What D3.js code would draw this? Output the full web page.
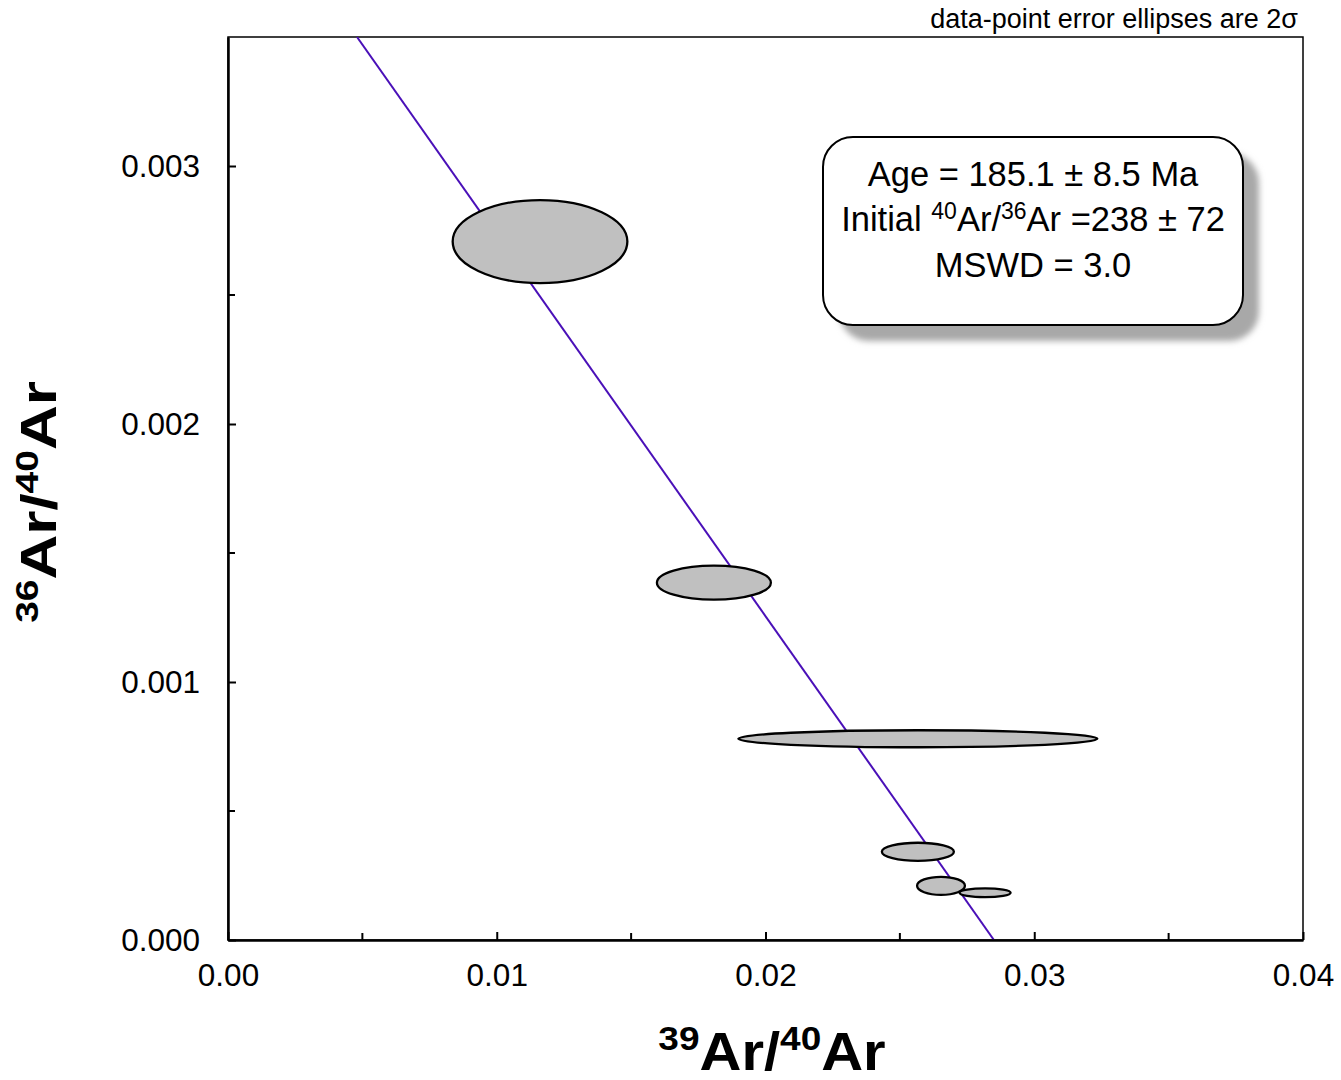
<!DOCTYPE html>
<html>
<head>
<meta charset="utf-8">
<script src="https://cdn.jsdelivr.net/npm/d3@7"></script>
<style>
	body { margin: 0; background: #fff; }
	text { font-family: "Liberation Sans", Arial, sans-serif; }
</style>
</head>
<body>
<svg id="chart" width="1341" height="1080"></svg>
<script>
// data: ellipse centres and 2 sigma half-widths
var ptX = [0.01161, 0.01808, 0.02567, 0.02567, 0.02653, 0.02817]
var ptY = [0.002707, 0.001385, 0.000780, 0.000342, 0.000210, 0.000183]
var errX = [0.00325, 0.00212, 0.00668, 0.00134, 0.00089, 0.00095]
var errY = [0.000161, 0.000066, 0.000033, 0.000035, 0.000035, 0.000017]

// isochron line (end points)
var isoX = [0.0048, 0.0285]
var isoY = [0.0035, 0]

var xTicks = [0, 0.01, 0.02, 0.03, 0.04]
var xMinor = [0.005, 0.015, 0.025, 0.035]
var yTicks = [0, 0.001, 0.002, 0.003]
var yMinor = [0.0005, 0.0015, 0.0025]

var boxLines = ['Age = 185.1 ± 8.5 Ma', 'Initial', 'MSWD = 3.0']

var pLeft = 228, pRight = 1303, pTop = 37, pBottom = 940

var x = d3.scaleLinear().domain([0, 0.04]).range([pLeft, pRight])
var y = d3.scaleLinear().domain([0, 0.0035]).range([pBottom, pTop])

var svg = d3.select('#chart')

// shadow filter for the text box
var defs = svg.append('defs')
defs.append('filter')
	.attr('id', 'blur')
	.attr('x', '-10%').attr('y', '-10%')
	.attr('width', '120%').attr('height', '120%')
	.append('feGaussianBlur')
	.attr('stdDeviation', 3)

defs.append('clipPath').attr('id', 'plotclip')
	.append('rect')
	.attr('x', pLeft).attr('y', pTop)
	.attr('width', pRight - pLeft).attr('height', pBottom - pTop)

// frame
svg.append('rect')
	.attr('x', pLeft).attr('y', pTop)
	.attr('width', pRight - pLeft).attr('height', pBottom - pTop)
	.attr('fill', 'none')
	.attr('stroke', '#000')
	.attr('stroke-width', 1.5)

// isochron line
svg.append('line')
	.attr('clip-path', 'url(#plotclip)')
	.attr('x1', x(isoX[0])).attr('y1', y(isoY[0]))
	.attr('x2', x(isoX[1])).attr('y2', y(isoY[1]))
	.attr('stroke', '#4a10b8')
	.attr('stroke-width', 2)

// ellipses
svg.selectAll('ellipse.pt')
	.data(ptX)
	.enter()
	.append('ellipse')
	.attr('class', 'pt')
	.attr('cx', function (d) { return x(d) })
	.attr('cy', function (d, i) { return y(ptY[i]) })
	.attr('rx', function (d, i) { return x(errX[i]) - x(0) })
	.attr('ry', function (d, i) { return y(0) - y(errY[i]) })
	.attr('fill', '#c0c0c0')
	.attr('stroke', '#000')
	.attr('stroke-width', 2.3)

// axes
var xAxis = d3.axisBottom(x).tickValues(xTicks).tickFormat(d3.format('.2f')).tickSizeInner(-8).tickSizeOuter(0).tickPadding(24)
var gx = svg.append('g').attr('transform', 'translate(0,' + pBottom + ')').call(xAxis)
gx.select('.domain').attr('stroke-width', 2.5)
gx.selectAll('.tick line').attr('stroke-width', 2)
gx.selectAll('.tick text').attr('font-size', 31.5).attr('fill', '#000').attr('font-family', '"Liberation Sans", Arial, sans-serif')

gx.selectAll('line.minor')
	.data(xMinor)
	.enter()
	.append('line')
	.attr('class', 'minor')
	.attr('x1', function (d) { return x(d) }).attr('x2', function (d) { return x(d) })
	.attr('y1', 0).attr('y2', -7)
	.attr('stroke', '#000').attr('stroke-width', 2)

var yAxis = d3.axisLeft(y).tickValues(yTicks).tickFormat(d3.format('.3f')).tickSizeInner(-8).tickSizeOuter(0).tickPadding(28)
var gy = svg.append('g').attr('transform', 'translate(' + pLeft + ',0)').call(yAxis)
gy.select('.domain').attr('stroke-width', 2.5)
gy.selectAll('.tick line').attr('stroke-width', 2)
gy.selectAll('.tick text').attr('font-size', 31.5).attr('fill', '#000').attr('font-family', '"Liberation Sans", Arial, sans-serif')

gy.selectAll('line.minor')
	.data(yMinor)
	.enter()
	.append('line')
	.attr('class', 'minor')
	.attr('y1', function (d) { return y(d) }).attr('y2', function (d) { return y(d) })
	.attr('x1', 0).attr('x2', 7)
	.attr('stroke', '#000').attr('stroke-width', 2)

// axis titles
var xt = svg.append('text')
	.attr('transform', 'translate(772,1070) scale(1,0.92)')
	.attr('text-anchor', 'middle')
	.attr('font-weight', 'bold')
	.attr('font-size', 58)
xt.append('tspan').attr('font-size', 37).attr('dy', -22).text('39')
xt.append('tspan').attr('dy', 22).text('Ar/')
xt.append('tspan').attr('font-size', 37).attr('dy', -22).text('40')
xt.append('tspan').attr('dy', 22).text('Ar')

var yt = svg.append('text')
	.attr('transform', 'translate(56,502) rotate(-90) scale(1,0.8)')
	.attr('text-anchor', 'middle')
	.attr('font-weight', 'bold')
	.attr('font-size', 62)
yt.append('tspan').attr('font-size', 39).attr('dy', -22).text('36')
yt.append('tspan').attr('dy', 22).text('Ar/')
yt.append('tspan').attr('font-size', 39).attr('dy', -22).text('40')
yt.append('tspan').attr('dy', 22).text('Ar')

// note
svg.append('text')
	.attr('x', 1298).attr('y', 28)
	.attr('text-anchor', 'end')
	.attr('font-size', 27)
	.text('data-point error ellipses are 2σ')

// result box
var bx = 823, by = 137, bw = 420, bh = 188
svg.append('rect')
	.attr('x', bx + 16).attr('y', by + 16)
	.attr('width', bw).attr('height', bh)
	.attr('rx', 30).attr('ry', 30)
	.attr('fill', '#a8a8a8')
	.attr('filter', 'url(#blur)')
svg.append('rect')
	.attr('x', bx).attr('y', by)
	.attr('width', bw).attr('height', bh)
	.attr('rx', 30).attr('ry', 30)
	.attr('fill', '#fff')
	.attr('stroke', '#000')
	.attr('stroke-width', 2)

var cx = bx + bw / 2
svg.append('text')
	.attr('x', cx).attr('y', 186)
	.attr('text-anchor', 'middle')
	.attr('font-size', 34.5)
	.text(boxLines[0])

var t2 = svg.append('text')
	.attr('x', cx).attr('y', 231)
	.attr('text-anchor', 'middle')
	.attr('font-size', 34.5)
t2.append('tspan').text(boxLines[1] + ' ')
t2.append('tspan').attr('font-size', 23).attr('dy', -12).text('40')
t2.append('tspan').attr('dy', 12).text('Ar/')
t2.append('tspan').attr('font-size', 23).attr('dy', -12).text('36')
t2.append('tspan').attr('dy', 12).text('Ar =238 ± 72')

svg.append('text')
	.attr('x', cx).attr('y', 277)
	.attr('text-anchor', 'middle')
	.attr('font-size', 34.5)
	.text(boxLines[2])
</script>
</body>
</html>
